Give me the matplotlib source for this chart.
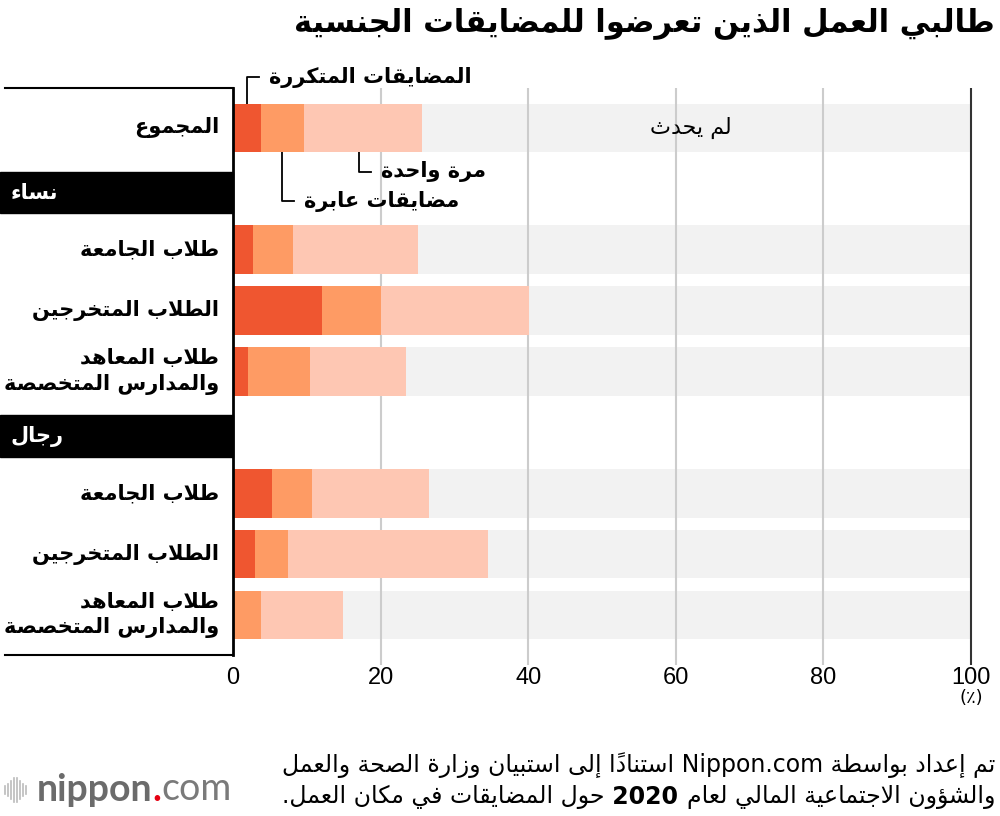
import matplotlib
matplotlib.use("Agg")
import matplotlib.pyplot as plt
from matplotlib.patches import Rectangle
from matplotlib.lines import Line2D

# ---- data ----
categories = ["المجموع", "طلاب الجامعة", "الطلاب المتخرجين", "طلاب المعاهد\nوالمدارس المتخصصة",
              "طلاب الجامعة", "الطلاب المتخرجين", "طلاب المعاهد\nوالمدارس المتخصصة"]
row_slots = [0, 2, 3, 4, 6, 7, 8]
group_labels = ["نساء", "رجال"]
group_slots = [1, 5]
series_names = ["المضايقات المتكررة", "مضايقات عابرة", "مرة واحدة", "لم يحدث"]
repeated = [3.8, 2.7, 12.1, 2.0, 5.3, 3.0, 0.0]
transient = [5.8, 5.4, 7.9, 8.5, 5.4, 4.5, 3.8]
once = [16.0, 16.9, 20.1, 12.9, 15.8, 27.1, 11.1]
never = [74.4, 75.0, 59.9, 76.6, 73.5, 65.4, 85.1]
xticks = [0, 20, 40, 60, 80, 100]
colors = ["#ef5630", "#fe9b64", "#fec7b3", "#f2f2f2"]

title = "طالبي العمل الذين تعرضوا للمضايقات الجنسية"
source_1 = "تم إعداد بواسطة Nippon.com استنادًا إلى استبيان وزارة الصحة والعمل"
source_2a = "والشؤون الاجتماعية المالي لعام"
source_2b = "2020"
source_2c = "حول المضايقات في مكان العمل."

# ---- minimal Arabic shaping (matplotlib has no text shaping) ----
_letters = "ءآأؤإئابةتثجحخدذرزسشصضطظعغفقكلمنهوىي"
_dual = "ئبتثجحخسشصضطظعغفقكلمنهي"
FORMS = {}
_base = 0xFE80
for _c in _letters:
    _n = 1 if _c == "ء" else (4 if _c in _dual else 2)
    FORMS[_c] = (_base, _n)
    _base += _n
LAM_ALEF = {"آ": 0xFEF5, "أ": 0xFEF7, "إ": 0xFEF9, "ا": 0xFEFB}


def is_mark(c):
    return 0x064B <= ord(c) <= 0x065F or c == "\u0670"


def shape_word(word):
    clusters = []
    for c in word:
        if is_mark(c) and clusters:
            clusters[-1][1] += c
        else:
            clusters.append([c, ""])
    merged = []
    i = 0
    while i < len(clusters):
        b, m = clusters[i]
        if b == "ل" and i + 1 < len(clusters) and clusters[i + 1][0] in LAM_ALEF:
            merged.append(["LA" + clusters[i + 1][0], m + clusters[i + 1][1]])
            i += 2
        else:
            merged.append([b, m])
            i += 1

    def nf(b):
        if b.startswith("LA"):
            return 2
        return FORMS.get(b, (0, 0))[1]

    out = []
    for i, (b, m) in enumerate(merged):
        n = nf(b)
        if n == 0:
            out.append(b + m)
            continue
        prev_j = i > 0 and nf(merged[i - 1][0]) == 4 and n >= 2
        next_j = n == 4 and i + 1 < len(merged) and nf(merged[i + 1][0]) >= 2
        if b.startswith("LA"):
            code = LAM_ALEF[b[2]] + (1 if prev_j else 0)
        else:
            base = FORMS[b][0]
            if prev_j and next_j:
                code = base + 3
            elif next_j:
                code = base + 2
            elif prev_j:
                code = base + 1
            else:
                code = base
        out.append(m + chr(code))
    return "".join(reversed(out))


def has_arabic(w):
    return any(0x0600 <= ord(c) <= 0x06FF for c in w)


def ar(text):
    lines = []
    for line in text.split("\n"):
        words = [shape_word(w) if has_arabic(w) else w for w in line.split(" ")]
        lines.append(" ".join(reversed(words)))
    return "\n".join(lines)


# ---- figure ----
plt.rcParams["font.family"] = ["DejaVu Sans"]
fig = plt.figure(figsize=(10, 8.16), dpi=100)
ax = fig.add_axes([0.233, 1 - 655 / 816, 0.738, 567 / 816])

pad = 40 / 60.9
ax.set_xlim(0, 100)
ax.set_ylim(8 + pad, -pad)

h = 0.8
left = [0] * len(repeated)
for vals, col, z in zip([repeated, transient, once, never], colors, [3, 3, 3, 1]):
    ax.barh(row_slots, vals, left=left, height=h, color=col, zorder=z, linewidth=0)
    left = [a + b for a, b in zip(left, vals)]

# grid lines
ext = 10 / 60.9
for x in xticks[1:-1]:
    ax.vlines(x, -pad, 8 + pad + ext, color="#cccccc", lw=1.5, zorder=2, clip_on=False)
ax.vlines(100, -pad, 8 + pad + ext, color="#333333", lw=1.5, zorder=2, clip_on=False)

for s in ["top", "right", "bottom"]:
    ax.spines[s].set_visible(False)
ax.spines["left"].set_linewidth(2)
ax.spines["left"].set_zorder(5)
ax.set_yticks([])
ax.set_xticks(xticks)
ax.set_xticklabels([str(t) for t in xticks], fontsize=17, family="Liberation Sans")
ax.tick_params(axis="x", length=0, pad=9)
ax.text(100, 8 + pad + 0.7, "(٪)", ha="center", va="center", fontsize=13)

# left panel frame
px = 1 / 7.38
ax.plot([-228 * px, 0], [-pad, -pad], color="black", lw=1.5, clip_on=False)
ax.plot([-228 * px, 0], [8 + pad, 8 + pad], color="black", lw=1.5, clip_on=False)

# category labels
for lab, s in zip(categories, row_slots):
    ax.annotate(ar(lab), xy=(0, s), xytext=(-10, 0), textcoords="offset points",
                ha="right", va="center", fontsize=15, fontweight="bold",
                multialignment="right", linespacing=1.35, annotation_clip=False)

# group header boxes
for lab, s in zip(group_labels, group_slots):
    yc = s + 0.06
    ax.add_patch(Rectangle((-233 * px, yc - 0.34), 233 * px, 0.68, color="black",
                           clip_on=False, zorder=4))
    ax.text(-222 * px, yc, ar(lab), ha="left", va="center", color="white",
            fontsize=15, fontweight="bold", zorder=5)

# series annotations on the total bar
ybar = row_slots[0]
x_rep = repeated[0] / 2
x_tr = repeated[0] + transient[0] / 2
x_on = repeated[0] + transient[0] + once[0] / 2 - 0.5
hl = 12 * px
for xm, yt, name in [(x_rep, -0.83, series_names[0]),
                     (x_on, 0.72, series_names[2]),
                     (x_tr, 1.2, series_names[1])]:
    y0 = ybar - h / 2 if yt < 0 else ybar + h / 2
    ax.plot([xm, xm, xm + hl], [y0, yt, yt], color="black", lw=1.3, clip_on=False)
    ax.text(xm + hl + 10 * px, yt, ar(name), ha="left", va="center", fontsize=15,
            fontweight="bold")
ax.text(repeated[0] + transient[0] + once[0] + never[0] / 2 - 0.8, ybar, ar(series_names[3]),
        ha="center", va="center", fontsize=16, zorder=4)

# title
fig.text(0.995, 1 - 23 / 816, ar(title), ha="right", va="center", fontsize=22,
         fontweight="bold")

# source
fs = 17
fig.text(0.995, 1 - 765 / 816, ar(source_1), ha="right", va="center", fontsize=fs)
t1 = fig.text(0.995, 1 - 797 / 816, ar(source_2a), ha="right", va="center", fontsize=fs)
t2 = plt.annotate(" " + source_2b + " ", xy=(0, 0), xycoords=t1, ha="right", va="bottom",
                  fontsize=fs, fontweight="bold")
plt.annotate(ar(source_2c), xy=(0, 0), xycoords=t2, ha="right", va="bottom", fontsize=fs)

# logo
bar_h = [8, 12, 18, 24, 24, 18, 12, 8]
for i, bh in enumerate(bar_h):
    xx = (5 + i * 3) / 1000
    fig.add_artist(Line2D([xx, xx], [1 - (790 + bh / 2) / 816, 1 - (790 - bh / 2) / 816],
                          color="#bbbbbb", lw=1.2))
lg = fig.text(0.037, 1 - 790 / 816, "nippon", fontsize=27, fontweight="bold",
              color="#6b6b6b", family="Lato", va="center")
lg2 = plt.annotate(".", xy=(1, 0), xycoords=lg, va="bottom", fontsize=27,
                   fontweight="bold", color="#e60012", family="Lato")
plt.annotate("com", xy=(1, 0), xycoords=lg2, va="bottom", fontsize=27,
             color="#7a7a7a", family="Lato")

fig.savefig("out.png", dpi=100)
